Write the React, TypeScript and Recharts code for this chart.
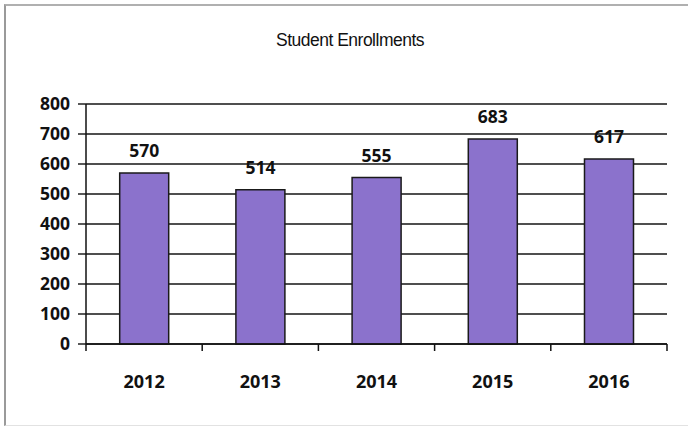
import { BarChart, Bar, XAxis, YAxis, CartesianGrid, LabelList } from 'recharts';

const years = ['2012', '2013', '2014', '2015', '2016'];
const enrollments = [570, 514, 555, 683, 617];
const yTicks = [0, 100, 200, 300, 400, 500, 600, 700, 800];

const chartData = years.map((year, i) => ({ year, enrollments: enrollments[i] }));

const boldFont = { fontFamily: 'Open Sans', fontWeight: 700, fontSize: 17.5, fill: '#111' };
const LABEL_GAP = 31;

// year label plus the tick marks between categories (Excel style)
function YearTick(props: any) {
  const { x, y, payload, index, visibleTicksCount } = props;
  const half = payload.offset || 0;
  const axisY = y - LABEL_GAP;
  const isLast = index === visibleTicksCount - 1;
  return (
    <g>
      <line x1={x - half} x2={x - half} y1={axisY} y2={axisY + 7} stroke="#111" strokeWidth={1.5} />
      {isLast && (
        <line x1={x + half} x2={x + half} y1={axisY} y2={axisY + 7} stroke="#111" strokeWidth={1.5} />
      )}
      <text x={x} y={y} dy="0.71em" textAnchor="middle" {...boldFont} fontSize={18}>
        {payload.value}
      </text>
    </g>
  );
}

export default function App() {
  return (
    <div style={{ position: 'absolute', left: 0, top: 0, width: 688, height: 426, background: '#fff' }}>
      {/* scanned frame */}
      <div
        style={{
          position: 'absolute',
          left: 4,
          top: 4,
          width: 700,
          height: 419,
          borderLeft: '2px solid #9a9a9a',
          borderTop: '2px solid #b0b0b0',
          borderBottom: '1px solid #e2e2e2',
        }}
      />
      <div
        style={{
          position: 'absolute',
          left: 0,
          width: 700,
          top: 30,
          textAlign: 'center',
          fontFamily: 'Liberation Sans',
          fontSize: 17.5,
          letterSpacing: -0.5,
          color: '#111',
        }}
      >
        Student Enrollments
      </div>
      <BarChart
        width={688}
        height={426}
        data={chartData}
        margin={{ top: 104, right: 21, left: 0, bottom: 43 }}
        barCategoryGap="29%"
        style={{ position: 'absolute', left: 0, top: 0 }}
      >
        <CartesianGrid vertical={false} stroke="#151515" strokeWidth={1.4} />
        <XAxis
          dataKey="year"
          height={39}
          interval={0}
          tickLine={false}
          tickSize={0}
          tickMargin={LABEL_GAP}
          axisLine={{ stroke: '#111', strokeWidth: 1.5 }}
          tick={YearTick}
        />
        <YAxis
          domain={[0, 800]}
          ticks={yTicks}
          width={86}
          tick={boldFont}
          tickSize={8}
          tickMargin={8}
          axisLine={{ stroke: '#111', strokeWidth: 1.5 }}
          tickLine={{ stroke: '#111', strokeWidth: 1.4 }}
        />
        <Bar
          dataKey="enrollments"
          fill="#8B72CC"
          stroke="#1a1a1a"
          strokeWidth={1.5}
          isAnimationActive={false}
        >
          <LabelList dataKey="enrollments" position="top" offset={16} style={boldFont} />
        </Bar>
      </BarChart>
    </div>
  );
}
